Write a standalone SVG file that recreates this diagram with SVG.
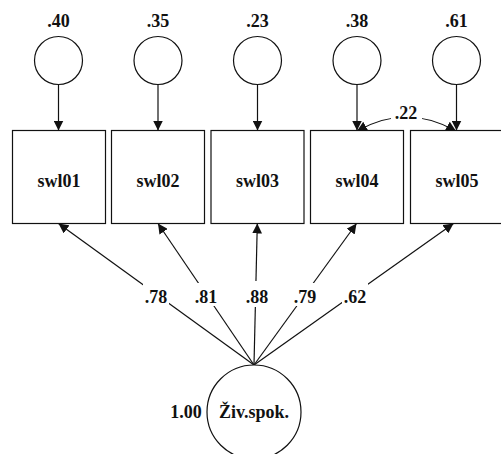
<svg xmlns="http://www.w3.org/2000/svg" width="501" height="454" viewBox="0 0 501 454">
  <style>
    .node { fill: #fff; stroke: #111; stroke-width: 1.2; }
    .edge { fill: none; stroke: #111; stroke-width: 1.2; }
    .lbl { font-family: "Liberation Serif", "Times New Roman", serif; font-size: 18px; font-weight: bold; fill: #111; text-anchor: middle; }
    .bg { fill: #fff; stroke: none; }
  </style>
  <defs>
    <marker id="arrow" viewBox="0 0 10 10" refX="10" refY="5" markerWidth="10" markerHeight="10" markerUnits="userSpaceOnUse" orient="auto-start-reverse">
      <path d="M0,0 L10,5 L0,10 Z" fill="#111"/>
    </marker>
  </defs>
  <rect width="501" height="454" fill="#fff"/>

  <!-- connectors -->
  <g id="connectors">
    <!-- residual variances into indicators -->
    <line class="edge" x1="58.5" y1="84.5" x2="58.5" y2="130.5" marker-end="url(#arrow)"/>
    <line class="edge" x1="158" y1="84.5" x2="158" y2="130.5" marker-end="url(#arrow)"/>
    <line class="edge" x1="257.5" y1="84.5" x2="257.5" y2="130.5" marker-end="url(#arrow)"/>
    <line class="edge" x1="357" y1="84.5" x2="357" y2="130.5" marker-end="url(#arrow)"/>
    <line class="edge" x1="456.5" y1="84.5" x2="456.5" y2="130.5" marker-end="url(#arrow)"/>
    <!-- residual covariance swl04 <-> swl05 -->
    <path class="edge" d="M357,131 Q406.5,103 456,131" marker-start="url(#arrow)" marker-end="url(#arrow)"/>
    <rect class="bg" x="391" y="104" width="31" height="20"/>
    <text class="lbl" x="406" y="119">.22</text>
    <!-- factor loadings -->
    <line class="edge" x1="254" y1="365" x2="58.5" y2="223.5" marker-end="url(#arrow)"/>
    <line class="edge" x1="254" y1="365" x2="158" y2="223.5" marker-end="url(#arrow)"/>
    <line class="edge" x1="254" y1="365" x2="257.3" y2="223.5" marker-end="url(#arrow)"/>
    <line class="edge" x1="254" y1="365" x2="356.5" y2="223.5" marker-end="url(#arrow)"/>
    <line class="edge" x1="254" y1="365" x2="453.5" y2="223.5" marker-end="url(#arrow)"/>
    <rect class="bg" x="143" y="283" width="26" height="23"/>
    <rect class="bg" x="193" y="283" width="26" height="23"/>
    <rect class="bg" x="244" y="281" width="26" height="26"/>
    <rect class="bg" x="292" y="283" width="26" height="23"/>
    <rect class="bg" x="342" y="283" width="26" height="23"/>
    <text class="lbl" x="156" y="303">.78</text>
    <text class="lbl" x="206" y="303">.81</text>
    <text class="lbl" x="257" y="303">.88</text>
    <text class="lbl" x="305" y="303">.79</text>
    <text class="lbl" x="355" y="303">.62</text>
  </g>

  <!-- residual nodes -->
  <g id="e01"><circle class="node" cx="58.5" cy="60.5" r="24"/><text class="lbl" x="58.5" y="27">.40</text></g>
  <g id="e02"><circle class="node" cx="158" cy="60.5" r="24"/><text class="lbl" x="158" y="27">.35</text></g>
  <g id="e03"><circle class="node" cx="257.5" cy="60.5" r="24"/><text class="lbl" x="257.5" y="27">.23</text></g>
  <g id="e04"><circle class="node" cx="357" cy="60.5" r="24"/><text class="lbl" x="357" y="27">.38</text></g>
  <g id="e05"><circle class="node" cx="456.5" cy="60.5" r="24"/><text class="lbl" x="456.5" y="27">.61</text></g>

  <!-- indicator nodes -->
  <g id="swl01"><rect class="node" x="12.5" y="130.5" width="93" height="93"/><text class="lbl" x="59" y="187">swl01</text></g>
  <g id="swl02"><rect class="node" x="111.5" y="130.5" width="93" height="93"/><text class="lbl" x="158" y="187">swl02</text></g>
  <g id="swl03"><rect class="node" x="211" y="130.5" width="93" height="93"/><text class="lbl" x="257.5" y="187">swl03</text></g>
  <g id="swl04"><rect class="node" x="310.5" y="130.5" width="93" height="93"/><text class="lbl" x="357" y="187">swl04</text></g>
  <g id="swl05"><rect class="node" x="410.5" y="130.5" width="93" height="93"/><text class="lbl" x="457" y="187">swl05</text></g>

  <!-- latent factor -->
  <g id="zivspok">
    <circle class="node" cx="254" cy="412" r="47"/>
    <text class="lbl" x="254" y="418">Živ.spok.</text>
    <text class="lbl" x="186" y="418">1.00</text>
  </g>
</svg>
